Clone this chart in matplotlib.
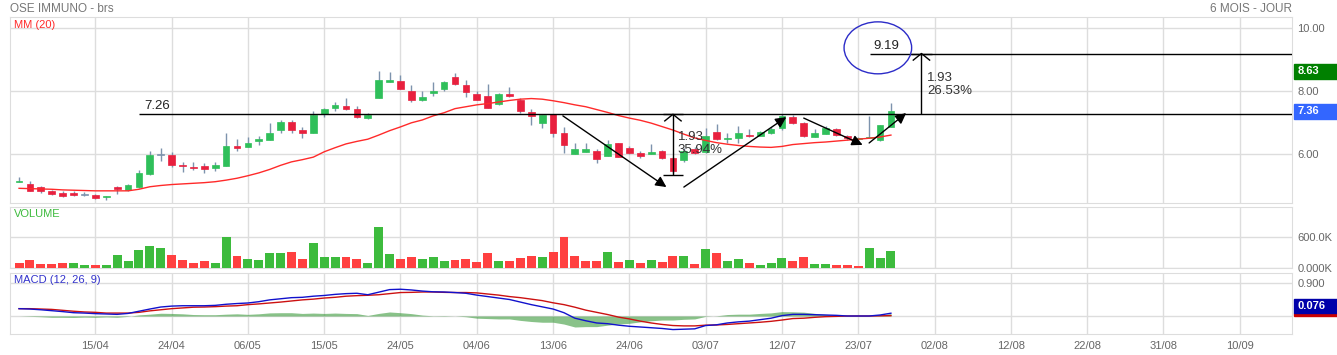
import matplotlib
matplotlib.use("Agg")
import matplotlib.pyplot as plt
from matplotlib.patches import Ellipse, Rectangle

plt.rcParams['font.family'] = ['Liberation Sans', 'DejaVu Sans']

# daily candles (index 0 = first session shown)
opens = [5.11, 5.05, 4.94, 4.83, 4.77, 4.77, 4.70, 4.69, 4.62, 4.95,
         4.86, 4.94, 5.37, 5.97, 5.97, 5.65, 5.59, 5.62, 5.55, 5.63,
         6.25, 6.23, 6.42, 6.45, 6.77, 7.01, 6.75, 6.68, 7.26, 7.45,
         7.51, 7.42, 7.13, 7.79, 8.28, 8.32, 7.99, 7.70, 7.93, 8.07,
         8.45, 8.20, 7.90, 7.83, 7.58, 7.90, 7.71, 7.32, 6.99, 7.26,
         6.68, 6.01, 6.07, 6.09, 5.95, 6.34, 6.18, 6.04, 6.01, 6.09,
         5.86, 5.80, 6.15, 6.05, 6.71, 6.48, 6.50, 6.61, 6.57, 6.66,
         6.82, 7.19, 6.98, 6.55, 6.65, 6.78, 6.56, 6.47, 6.52, 6.44, 6.87]
highs = [5.26, 5.14, 4.97, 4.85, 4.83, 4.83, 4.79, 4.74, 4.67, 4.99,
         5.04, 5.50, 6.10, 6.18, 6.05, 5.75, 5.73, 5.72, 5.75, 6.67,
         6.47, 6.55, 6.58, 6.98, 7.08, 7.08, 6.86, 7.37, 7.46, 7.66,
         7.79, 7.51, 7.29, 8.63, 8.61, 8.51, 8.19, 8.00, 8.28, 8.32,
         8.57, 8.35, 8.00, 8.21, 7.93, 8.12, 7.77, 7.43, 7.24, 7.26,
         6.86, 6.34, 6.34, 6.17, 6.45, 6.34, 6.24, 6.09, 6.32, 6.12,
         5.89, 6.19, 6.22, 6.81, 6.94, 6.66, 6.89, 6.80, 6.74, 6.87,
         7.26, 7.24, 7.00, 6.78, 6.89, 6.84, 6.60, 6.55, 7.21, 6.92, 7.61]
lows = [5.10, 4.82, 4.77, 4.71, 4.65, 4.68, 4.66, 4.56, 4.55, 4.72,
        4.84, 4.93, 5.32, 5.78, 5.60, 5.42, 5.48, 5.41, 5.46, 5.62,
        6.11, 6.22, 6.28, 6.44, 6.66, 6.68, 6.50, 6.67, 7.18, 7.37,
        7.41, 7.15, 7.10, 7.77, 8.27, 8.05, 7.66, 7.68, 7.85, 8.00,
        8.19, 7.82, 7.70, 7.45, 7.56, 7.80, 7.31, 6.92, 6.84, 6.55,
        6.04, 5.99, 6.05, 5.72, 5.94, 5.90, 5.99, 5.86, 5.99, 5.84,
        5.41, 5.75, 6.00, 6.02, 6.45, 6.35, 6.35, 6.53, 6.56, 6.64,
        6.76, 6.95, 6.54, 6.54, 6.63, 6.57, 6.45, 6.42, 6.50, 6.41, 6.86]
closes = [5.13, 4.83, 4.81, 4.72, 4.66, 4.70, 4.70, 4.59, 4.66, 4.88,
          5.02, 5.39, 5.97, 5.97, 5.64, 5.61, 5.55, 5.51, 5.65, 6.25,
          6.18, 6.35, 6.46, 6.66, 7.01, 6.75, 6.68, 7.24, 7.44, 7.54,
          7.42, 7.18, 7.24, 8.35, 8.35, 8.06, 7.71, 7.80, 8.00, 8.28,
          8.23, 7.98, 7.71, 7.47, 7.90, 7.83, 7.35, 7.20, 7.24, 6.68,
          6.29, 6.15, 6.15, 5.83, 6.31, 5.92, 6.04, 5.93, 6.05, 5.86,
          5.46, 6.09, 6.02, 6.58, 6.48, 6.52, 6.66, 6.56, 6.70, 6.79,
          7.22, 6.98, 6.56, 6.66, 6.84, 6.59, 6.50, 6.52, 6.55, 6.91, 7.36]
mm20 = [4.91, 4.90, 4.89, 4.88, 4.86, 4.85, 4.84, 4.83, 4.83, 4.83,
        4.83, 4.88, 4.96, 5.00, 5.03, 5.05, 5.07, 5.09, 5.12, 5.17,
        5.23, 5.31, 5.40, 5.51, 5.64, 5.75, 5.82, 5.90, 6.07, 6.20,
        6.32, 6.40, 6.47, 6.60, 6.74, 6.86, 6.99, 7.08, 7.21, 7.31,
        7.44, 7.50, 7.56, 7.60, 7.65, 7.70, 7.74, 7.76, 7.74, 7.69,
        7.63, 7.56, 7.50, 7.41, 7.32, 7.22, 7.14, 7.07, 6.98, 6.87,
        6.76, 6.63, 6.51, 6.43, 6.36, 6.31, 6.27, 6.24, 6.22, 6.21,
        6.24, 6.30, 6.33, 6.36, 6.38, 6.41, 6.44, 6.47, 6.50, 6.54, 6.60]

volumes = [95, 152, 76, 70, 88, 88, 57, 50, 57, 259,
           139, 341, 417, 392, 253, 164, 95, 133, 101, 594,
           227, 171, 152, 284, 284, 303, 171, 486, 215, 215,
           221, 171, 88, 802, 265, 183, 221, 171, 215, 139,
           158, 183, 120, 297, 133, 133, 190, 240, 215, 316,
           594, 240, 126, 133, 309, 114, 164, 88, 152, 120,
           227, 240, 82, 360, 291, 133, 171, 88, 57, 95,
           202, 126, 215, 82, 76, 57, 63, 38, 385, 196, 322]  # thousands
vol_dir = ("rrrrrggrgg" "ggggrrrrgg" "rggggrrggg" "rrgggrrggg"
           "rrrrgrrrgr" "rrrrgrgrgr" "rgrgrggrgg" "grrggrrrggg")

macd = [0.20, 0.19, 0.17, 0.145, 0.12, 0.09, 0.08, 0.064, 0.055, 0.045,
        0.07, 0.13, 0.19, 0.245, 0.27, 0.28, 0.28, 0.28, 0.29, 0.32,
        0.34, 0.355, 0.39, 0.44, 0.47, 0.50, 0.51, 0.54, 0.56, 0.59,
        0.61, 0.62, 0.58, 0.65, 0.72, 0.73, 0.71, 0.68, 0.66, 0.655,
        0.64, 0.62, 0.57, 0.53, 0.49, 0.45, 0.38, 0.31, 0.25, 0.19,
        0.09, -0.06, -0.13, -0.19, -0.21, -0.25, -0.28, -0.30, -0.32, -0.34,
        -0.37, -0.36, -0.35, -0.26, -0.24, -0.19, -0.16, -0.14, -0.10, -0.06,
        0.01, 0.045, 0.045, 0.036, 0.027, 0.018, 0.0, 0.0, 0.0, 0.027, 0.076]
signal = [0.20, 0.20, 0.19, 0.18, 0.155, 0.13, 0.11, 0.10, 0.08, 0.08,
          0.08, 0.10, 0.14, 0.17, 0.20, 0.22, 0.24, 0.245, 0.255, 0.27,
          0.28, 0.31, 0.33, 0.355, 0.38, 0.41, 0.44, 0.46, 0.49, 0.51,
          0.54, 0.555, 0.565, 0.58, 0.61, 0.64, 0.645, 0.655, 0.655, 0.645,
          0.64, 0.64, 0.63, 0.60, 0.57, 0.53, 0.50, 0.46, 0.42, 0.36,
          0.31, 0.24, 0.16, 0.10, 0.04, -0.03, -0.08, -0.14, -0.19, -0.23,
          -0.26, -0.27, -0.27, -0.25, -0.245, -0.23, -0.21, -0.19, -0.17, -0.145,
          -0.11, -0.07, -0.06, -0.036, -0.018, -0.01, 0.0, 0.0, 0.0, 0.005, 0.01]

tick_pos = [7, 14, 21, 28, 35, 42, 49, 56, 63, 70, 77, 84, 91, 98, 105, 112]
tick_labels = ["15/04", "24/04", "06/05", "15/05", "24/05", "04/06", "13/06", "24/06",
               "03/07", "12/07", "23/07", "02/08", "12/08", "22/08", "31/08", "10/09"]

# drawn annotations
level_a, level_b = 7.26, 9.19
move = 1.93
pct_a, pct_b = "35.94%", "26.53%"

XMIN, XMAX = -0.83, 116.8
GRID = '#dddddd'
TXT = '#666666'
UP, DOWN = '#2fbf5a', '#e8203e'
WICK = '#7d93ad'

x = list(range(len(closes)))

fig = plt.figure(figsize=(13.37, 3.55), dpi=100)
W, H = 1337.0, 355.0
L, R = 10 / W, (1292 - 10) / W
ax = fig.add_axes([L, 1 - 203 / H, R, 186 / H])
axv = fig.add_axes([L, 1 - 268 / H, R, 61 / H], sharex=ax)
axm = fig.add_axes([L, 1 - 334 / H, R, 61 / H], sharex=ax)

for a in (ax, axv, axm):
    for s in a.spines.values():
        s.set_color(GRID)
    a.grid(True, color=GRID, lw=1)
    a.set_axisbelow(True)
    a.yaxis.tick_right()
    a.tick_params(length=0, labelsize=8, labelcolor=TXT, pad=4)
    a.tick_params(axis='x', labelbottom=False)

# --- price panel
ax.vlines(x, lows, highs, color=WICK, lw=1, zorder=2)
for i in x:
    o, c = opens[i], closes[i]
    if abs(c - o) < 0.005:
        col = WICK
        h = 0.03
    else:
        col = UP if c > o else DOWN
        h = abs(c - o)
    ax.bar(i, h, bottom=min(o, c) if h != 0.03 else o - 0.015, width=0.62,
           color=col, edgecolor=col, lw=0.5, zorder=3)
ax.plot(x, mm20, color='#ff2a2a', lw=1, zorder=4)
ax.set_xlim(XMIN, XMAX)
ax.set_ylim(4.444, 10.349)
ax.set_yticks([6, 8, 10])
ax.set_yticklabels(["6.00", "8.00", "10.00"])
ax.set_xticks(tick_pos)

ax.hlines(level_a, 11.0, XMAX, color='black', lw=1, zorder=5)
ax.text(11.5, level_a + 0.06, "7.26", fontsize=9.5, color='#222222', va='bottom')
ax.hlines(level_b, 78.1, XMAX, color='black', lw=1, zorder=5)
ax.text(78.4, level_b + 0.06, "9.19", fontsize=9.5, color='#222222', va='bottom')
ax.add_patch(Ellipse((78.8, 9.37), 6.2, 1.65, fill=False, edgecolor='#2c2cc8', lw=1, zorder=6))

# measuring bars
for mx, y0, y1, lab in [(60.0, level_a - move, level_a, pct_a), (82.8, level_a, level_b, pct_b)]:
    ax.vlines(mx, y0, y1, color='black', lw=1, zorder=5)
    ax.hlines(y1, mx - 0.95, mx + 0.95, color='black', lw=1, zorder=5)
    if mx < 70:
        ax.hlines(y0, mx - 0.95, mx + 0.95, color='black', lw=1, zorder=5)
    ax.plot([mx - 0.75, mx, mx + 0.75], [y1 - 0.21, y1, y1 - 0.21], color='black', lw=1, zorder=5)
ax.text(60.45, 6.72, "1.93\n" + pct_a, fontsize=9.5, color='#333333', va='top', linespacing=1.05, zorder=6)
ax.text(83.3, 8.60, "1.93\n" + pct_b, fontsize=9.5, color='#333333', va='top', linespacing=1.05, zorder=6)

arrows = [((49.9, 7.21), (59.4, 4.95)), ((61.0, 4.95), (70.4, 7.17)),
          ((72.0, 7.14), (77.4, 6.29)), ((78.0, 6.35), (81.4, 7.30))]
for (sx, sy), (ex, ey) in arrows:
    ax.annotate('', xy=(ex, ey), xytext=(sx, sy),
                arrowprops=dict(arrowstyle='-|>', color='black', lw=1, mutation_scale=16,
                                shrinkA=0, shrinkB=0), zorder=6)

ax.text(0.003, 0.985, "MM (20)", transform=ax.transAxes, color='#ff2a2a', fontsize=8, va='top')

# last price / max boxes
yt = ax.get_yaxis_transform()
for val, col in [(max(highs), '#008000'), (closes[-1], '#3366ff')]:
    ax.add_patch(Rectangle((1.0015, val - 0.235), 0.034, 0.47, transform=yt, color=col, clip_on=False))
    ax.text(1.0045, val, f"{val:.2f}", transform=yt, color='white', fontsize=8, fontweight='bold', va='center')

# --- volume
vcols = ['#3dbb3d' if d == 'g' else '#ff4040' for d in vol_dir]
axv.bar(x, [v * 1000 for v in volumes], width=0.82, color=vcols, zorder=3)
axv.set_ylim(0, 1180000)
axv.set_yticks([0, 600000])
axv.set_yticklabels(["0.000K", "600.0K"])
axv.text(0.003, 0.96, "VOLUME", transform=axv.transAxes, color='#3dbb3d', fontsize=8, va='top')

# --- MACD
hist = [m - s for m, s in zip(macd, signal)]
axm.fill_between(x, 0, hist, color='#3a9a3a', alpha=0.6, lw=0, zorder=2)
axm.plot(x, signal, color='#cc1111', lw=1, zorder=3)
axm.plot(x, macd, color='#1111cc', lw=1, zorder=4)
axm.set_ylim(-0.491, 1.173)
axm.set_yticks([0, 0.9])
axm.set_yticklabels(["", "0.900"])
axm.text(0.003, 0.96, "MACD (12, 26, 9)", transform=axm.transAxes, color='#3333cc', fontsize=8, va='top')
ym = axm.get_yaxis_transform()
axm.add_patch(Rectangle((1.0015, 0.0), 0.034, 0.08, transform=ym, color='#cc0000', clip_on=False))
axm.add_patch(Rectangle((1.0015, 0.08), 0.034, 0.38, transform=ym, color='#0000aa', clip_on=False))
axm.text(1.0045, 0.27, f"{macd[-1]:.3f}", transform=ym, color='white', fontsize=8, fontweight='bold', va='center')

axm.set_xticks(tick_pos)
axm.set_xticklabels(tick_labels)
axm.tick_params(axis='x', labelbottom=True, pad=5)

fig.text(L, 1 - 9 / H, "OSE IMMUNO - brs", color='#777777', fontsize=8.5, va='center')
fig.text(1292 / W, 1 - 9 / H, "6 MOIS - JOUR", color='#777777', fontsize=8.5, va='center', ha='right')

fig.savefig("out.png", dpi=100)
